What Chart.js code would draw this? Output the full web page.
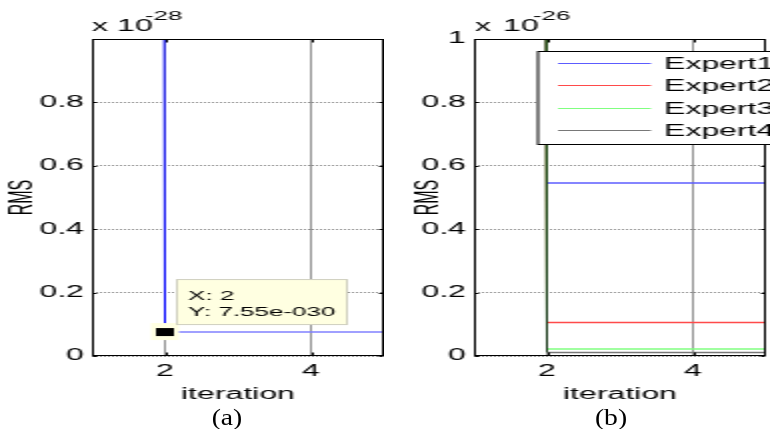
<!DOCTYPE html>
<html>
<head>
<meta charset="utf-8">
<script src="https://cdn.jsdelivr.net/npm/chart.js@4.4.0/dist/chart.umd.min.js"></script>
<style>
html, body { margin: 0; padding: 0; background: #fff; }
#wrap { position: relative; width: 770px; height: 429px; overflow: hidden; background: #fff; }
#wrap canvas { position: absolute; top: 0; }
.cap { position: absolute; top: 405px; font: 24px/24px 'Liberation Serif', 'Times New Roman', serif; color: #000; white-space: nowrap; transform: translateX(-50%) scaleX(1.15); }
</style>
</head>
<body>
<div id="wrap">
  <!-- the original figure is stretched 2x horizontally, so the canvases are too -->
  <canvas id="panelA" width="192" height="429" style="left:0px;width:384px;height:429px"></canvas>
  <canvas id="panelB" width="192" height="429" style="left:386px;width:384px;height:429px"></canvas>
  <div class="cap" style="left:227px">(a)</div>
  <div class="cap" style="left:611px">(b)</div>
</div>
<script>
'use strict';
const FONT = "'Liberation Sans', Arial, sans-serif";
const FS = 16;

const iterations = [1, 2, 3, 4, 5];
const xTicks = [2, 4];

// panel (a): RMS in units of 1e-28, first iteration is far off scale
const rmsA = [800, 0.0755, 0.0755, 0.0755, 0.0755];
const yTicksA = [0, 0.2, 0.4, 0.6, 0.8];
const tipIndex = 1; // data tip sits on iteration 2

// panel (b): RMS in units of 1e-26
const expertNames = ['Expert1', 'Expert2', 'Expert3', 'Expert4'];
const expert1 = [800, 0.546, 0.546, 0.546, 0.546];
const expert2 = [800, 0.106, 0.106, 0.106, 0.106];
const expert3 = [800, 0.022, 0.022, 0.022, 0.022];
const expert4 = [800, 0.011, 0.011, 0.011, 0.011];
const yTicksB = [0, 0.2, 0.4, 0.6, 0.8, 1];

// steep first segment is drawn darker than the flat part (like the original)
const steepColors = ['#0000ff', '#ff0000', '#00b000', '#1a361a'];
const flatColors = ['#5c5cff', '#ff4a4a', '#80ff80', '#787878'];

function series(label, values, steep, flat, order) {
    return {
        label: label,
        data: values.map((v, i) => ({x: iterations[i], y: v})),
        borderColor: flat,
        borderWidth: 1.5,
        pointRadius: 0,
        tension: 0,
        order: order, // later series are plotted on top, as in matlab
        segment: {
            borderColor: ctx => ctx.p0DataIndex === 0 ? steep : undefined,
            borderWidth: ctx => ctx.p0DataIndex === 0 ? 1 : undefined
        }
    };
}

function scalesFor(yTicks, yWidth, titlePad) {
    return {
        x: {
            type: 'linear', min: 1, max: 5,
            afterBuildTicks: s => { s.ticks = xTicks.map(v => ({value: v})); },
            afterFit: s => { s.height = 50; },
            grid: {color: '#939393', drawTicks: false},
            border: {display: false},
            ticks: {color: '#000', font: {family: FONT, size: FS}, padding: 6, maxRotation: 0, autoSkip: false},
            title: {display: true, text: 'iteration', color: '#000', font: {family: FONT, size: FS}, padding: {top: 0, bottom: 2}}
        },
        y: {
            type: 'linear', min: 0, max: 1,
            afterBuildTicks: s => { s.ticks = yTicks.map(v => ({value: v})); },
            afterFit: s => { s.width = yWidth; },
            grid: {color: '#8a8a8a', drawTicks: false},
            border: {display: false, dash: [1, 1]},
            ticks: {color: '#000', font: {family: FONT, size: FS}, padding: 4, callback: v => String(v)},
            title: {display: true, text: 'RMS', color: '#000', font: {family: FONT, size: FS}, padding: {top: titlePad, bottom: 0}}
        }
    };
}

// box round the axes, inward ticks, and the "x 10^n" multiplier
function framePlugin(exponent, labelX, tenDx, expDx) {
    return {
        id: 'frame',
        afterDatasetsDraw(chart) {
            const ctx = chart.ctx;
            const a = chart.chartArea;
            const xs = chart.scales.x, ys = chart.scales.y;
            const l = Math.round(a.left) + 0.5, r = Math.round(a.right) - 0.5;
            const t = Math.round(a.top) + 0.5, b = Math.round(a.bottom) - 0.5;
            ctx.save();
            ctx.strokeStyle = '#000';
            ctx.lineWidth = 1;
            ctx.strokeRect(l, t, r - l, b - t);
            ctx.beginPath();
            xs.ticks.forEach(tk => {
                const px = Math.round(xs.getPixelForValue(tk.value)) + 0.5;
                ctx.moveTo(px, b); ctx.lineTo(px, b - 3);
                ctx.moveTo(px, t); ctx.lineTo(px, t + 3);
            });
            ys.ticks.forEach(tk => {
                const py = Math.round(ys.getPixelForValue(tk.value)) + 0.5;
                ctx.moveTo(l, py); ctx.lineTo(l + 2, py);
                ctx.moveTo(r, py); ctx.lineTo(r - 2, py);
            });
            ctx.stroke();

            ctx.fillStyle = '#000';
            ctx.textBaseline = 'alphabetic';
            ctx.font = `${FS}px ${FONT}`;
            ctx.fillText('x', labelX, 31);
            ctx.fillText('10', labelX + tenDx, 31);
            ctx.font = `13px ${FONT}`;
            ctx.fillText(exponent, labelX + expDx, 20);
            ctx.restore();
        }
    };
}

function matlabExp(v) {
    const parts = v.toExponential(2).split('e');
    const sign = parts[1][0];
    return parts[0] + 'e' + sign + parts[1].slice(1).padStart(3, '0');
}

const dataTipPlugin = {
    id: 'dataTip',
    afterDraw(chart) {
        const ctx = chart.ctx;
        const px = chart.scales.x.getPixelForValue(iterations[tipIndex]);
        const py = chart.scales.y.getPixelForValue(rmsA[tipIndex]);
        ctx.save();
        ctx.fillStyle = '#ffffe1';
        ctx.fillRect(px - 7, py - 9, 14, 17);
        ctx.fillStyle = '#000';
        ctx.fillRect(px - 4.5, py - 4, 9, 8);
        ctx.fillStyle = '#ffffe1';
        ctx.strokeStyle = '#cfcfbf';
        ctx.lineWidth = 1;
        ctx.fillRect(px + 6, py - 52.5, 85, 45);
        ctx.strokeRect(px + 6, py - 52.5, 85, 45);
        ctx.fillStyle = '#000';
        ctx.font = `13px ${FONT}`;
        ctx.textBaseline = 'alphabetic';
        ctx.fillText('X: ' + iterations[tipIndex], px + 11.5, py - 32.5);
        ctx.fillText('Y: ' + matlabExp(rmsA[tipIndex] * 1e-28), px + 11.5, py - 16.5);
        ctx.restore();
    }
};

const boxLegendPlugin = {
    id: 'boxLegend',
    afterDraw(chart) {
        const ctx = chart.ctx;
        ctx.save();
        ctx.fillStyle = '#fff';
        ctx.strokeStyle = '#000';
        ctx.lineWidth = 1;
        ctx.fillRect(76, 51.5, 130, 93);
        ctx.strokeRect(76, 51.5, 130, 93);
        ctx.font = `${FS}px ${FONT}`;
        ctx.textBaseline = 'middle';
        chart.data.datasets.forEach((ds, i) => {
            const y = Math.round(63 + i * 22.4) + 0.5;
            ctx.strokeStyle = ds.borderColor;
            ctx.beginPath();
            ctx.moveTo(86, y);
            ctx.lineTo(132.5, y);
            ctx.stroke();
            ctx.fillStyle = '#000';
            ctx.fillText(ds.label, 139, y + 1);
        });
        ctx.restore();
    }
};

function makePanel(id, datasets, yTicks, yWidth, titlePad, right, plugins) {
    return new Chart(document.getElementById(id), {
        type: 'line',
        data: {datasets: datasets},
        options: {
            responsive: false,
            devicePixelRatio: 1,
            animation: false,
            layout: {padding: {top: 39, bottom: 23, left: 0, right: right}},
            plugins: {legend: {display: false}, tooltip: {enabled: false}},
            scales: scalesFor(yTicks, yWidth, titlePad)
        },
        plugins: plugins
    });
}

makePanel('panelA',
    [series('RMS', rmsA, steepColors[0], '#8080ff', 0)],
    yTicksA, 46, 1.5, 0,
    [framePlugin('-28', 46, 12.5, 26.5), dataTipPlugin]);

makePanel('panelB',
    [expert1, expert2, expert3, expert4].map((vals, i) =>
        series(expertNames[i], vals, steepColors[i], flatColors[i], expertNames.length - i)),
    yTicksB, 44, 11.5, 2,
    [framePlugin('-26', 44.5, 14, 29), boxLegendPlugin]);
</script>
</body>
</html>
